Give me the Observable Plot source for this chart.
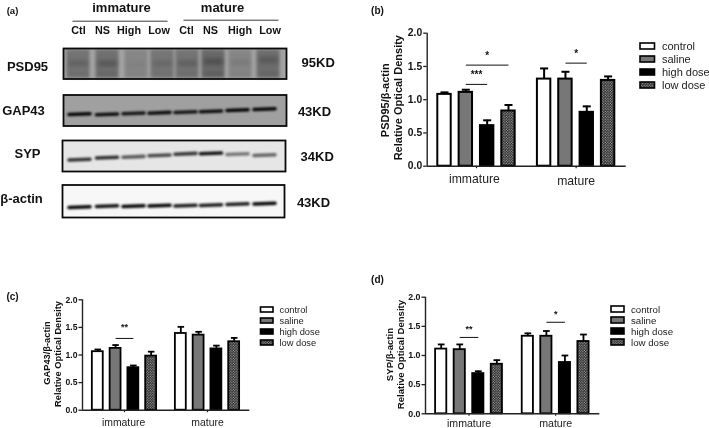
<!DOCTYPE html>
<html><head><meta charset="utf-8">
<script src="https://cdn.jsdelivr.net/npm/d3@7"></script>
<script src="https://cdn.jsdelivr.net/npm/@observablehq/plot@0.6"></script>
<style>
html,body{margin:0;padding:0;background:#fff}
#fig{position:relative;width:709px;height:428px;overflow:hidden;background:#fff;filter:blur(0.3px)}
#fig svg{position:absolute;left:0;top:0}
</style></head><body><div id="fig"></div>
<script>
const W = 709, H = 428, FONT = "Liberation Sans, Arial, sans-serif";
// ---- categories
const groups = ["immature", "mature"];
const series = ["control", "saline", "high dose", "low dose"];
const laneNames = ["Ctl", "NS", "High", "Low", "Ctl", "NS", "High", "Low"];
// ---- bar values [immature..., mature...]
const psdMean = [1.08, 1.11, 0.61, 0.83, 1.31, 1.31, 0.81, 1.29];
const psdTop  = [1.11, 1.15, 0.69, 0.92, 1.47, 1.42, 0.90, 1.35];
const gapMean = [1.06, 1.12, 0.77, 0.98, 1.39, 1.36, 1.11, 1.24];
const gapTop  = [1.10, 1.18, 0.81, 1.06, 1.51, 1.42, 1.17, 1.31];
const sypMean = [1.11, 1.10, 0.69, 0.85, 1.33, 1.33, 0.88, 1.24];
const sypTop  = [1.19, 1.19, 0.73, 0.92, 1.38, 1.42, 1.00, 1.36];
// ---- significance brackets: group, value of line, value of stars, stars, end lane
const psdSig = [[0, 1.23, 1.38, "***", 2], [0, 1.52, 1.66, "*", 3], [1, 1.55, 1.69, "*", 2]];
const gapSig = [[0, 1.30, 1.50, "**", 2]];
const sypSig = [[0, 1.31, 1.45, "**", 2], [1, 1.57, 1.71, "*", 2]];
// ---- blot rows
const blotRows = ["PSD95", "GAP43", "SYP", "β-actin"];
const blotMass = ["95KD", "43KD", "34KD", "43KD"];
const blotTop = [48.5, 95, 140.5, 185];
const blotBottom = [79, 126, 171.5, 217.5];
const blotLeft = [63.5, 63.5, 62.5, 62.5];
const blotRight = [286.5, 286.5, 285.5, 284.5];
const blotBg = ["#a4a4a4", "#a0a0a0", "#e6e6e6", "#f7f7f7"];
const blotBandY = [
  [62.7, 63, 64, 63, 62.7, 61, 62, 59.5],
  [114, 114.3, 113.3, 112.7, 112, 111.3, 110, 109],
  [159.5, 157.5, 156.7, 155.3, 153.7, 153.3, 154, 155],
  [207, 206, 206, 205.5, 205.5, 205, 204, 203.5]
];
const blotBandDark = [
  [0.28, 0.4, 0.06, 0.22, 0.32, 0.5, 0.14, 0.36],
  [1, 0.95, 0.9, 0.95, 0.9, 0.95, 1, 1],
  [0.8, 0.82, 0.62, 0.7, 0.78, 0.95, 0.5, 0.58],
  [1, 0.95, 1, 1, 0.9, 0.9, 0.9, 1]
];
const psdLaneDark = [0.42, 0.46, 0.26, 0.4, 0.42, 0.52, 0.26, 0.48];
const psdLaneX = [78, 107, 136, 162, 187, 213, 240, 268];
const laneBand = [79, 106.5, 133, 159, 185, 210.5, 237, 264];
const laneLabelX = [78, 102, 128.5, 158.5, 186, 210, 239.5, 269.5];

function base(opts, marks) {
  return Plot.plot({
    width: W, height: H, style: {background: "none", overflow: "visible", fontFamily: FONT, color: "#111"},
    ...opts, marks
  });
}

const defs = () => {
  const d = d3.create("svg:defs");
  const p = d.append("pattern").attr("id", "dots").attr("width", 2.6).attr("height", 2.6)
    .attr("patternUnits", "userSpaceOnUse");
  p.append("rect").attr("width", 2.6).attr("height", 2.6).attr("fill", "#1a1a1a");
  p.append("circle").attr("cx", 0.7).attr("cy", 0.7).attr("r", 0.62).attr("fill", "#c4c4c4");
  p.append("circle").attr("cx", 2).attr("cy", 2).attr("r", 0.62).attr("fill", "#c4c4c4");
  return d.node();
};

const swatchFill = {"control": "#fff", "saline": "#777", "high dose": "#000", "low dose": "url(#dots)"};

function barPanel(c) {
  const gap = 4.67;
  const laneOf = i => (i < 4 ? i : i - 4 + gap);
  const half = c.barWidth / c.step / 2;
  const rows = c.mean.map((m, i) => ({i, m, t: c.top[i], s: series[i % 4], l: laneOf(i)}));
  const centres = [1.5, 1.5 + gap];
  const sig = c.sig.map(([g, line, star, txt, end]) => ({
    x1: 1 + g * gap, x2: end + g * gap, line, star, txt, xm: (1 + end) / 2 + g * gap
  }));
  const tw = c.stroke;
  const swatches = series.map(s =>
    Plot.rectY(rows.filter(r => r.s === s), {
      x1: r => r.l - half, x2: r => r.l + half, y1: 0, y2: "m",
      fill: swatchFill[s], stroke: "#000", strokeWidth: tw
    }));
  const chart = base({
    marginLeft: c.left, marginRight: W - c.right, marginTop: c.yTop, marginBottom: H - c.yZero,
    x: {domain: [(c.left - c.first) / c.step, (c.right - c.first) / c.step], axis: null},
    y: {domain: [0, 2], axis: null}
  }, [
    defs,
    Plot.ruleX(rows, {x: "l", y1: "m", y2: "t", stroke: "#000", strokeWidth: tw}),
    Plot.link(rows, {x1: r => r.l - half * 0.6, x2: r => r.l + half * 0.6, y1: "t", y2: "t", stroke: "#000", strokeWidth: tw}),
    ...swatches,
    Plot.axisY({ticks: [0, 0.5, 1, 1.5, 2], tickFormat: d3.format(".1f"), tickSize: 3.5, tickPadding: 1.5,
      strokeWidth: 1.3, stroke: "#222", fontSize: c.tickFont, fontWeight: "bold", label: null, fill: "#111"}),
    Plot.ruleX([0], {x: () => (c.left - c.first) / c.step, y1: 0, y2: 2, stroke: "#222", strokeWidth: 1.4}),
    Plot.ruleY([0], {stroke: "#222", strokeWidth: 1.4}),
    Plot.axisX({ticks: centres, tickFormat: () => "", tickSize: 2.5, stroke: "#222", strokeWidth: 1.2, label: null}),
    ...groups.map((g, i) => Plot.text([g], {x: () => centres[i] + c.groupShift[i], frameAnchor: "bottom",
      dy: c.groupDy[i], fontSize: c.groupFont, fill: "#222", lineAnchor: "middle"})),
    Plot.link(sig, {x1: "x1", x2: "x2", y1: "line", y2: "line", stroke: "#111", strokeWidth: 1}),
    Plot.text(sig, {x: "xm", y: "star", text: "txt", fontWeight: "bold", fontSize: c.starFont, fill: "#111", lineAnchor: "middle"}),
    Plot.text([c.label1], {frameAnchor: "left", dx: c.title1, dy: c.titleDy1, rotate: -90, fontWeight: "bold",
      fontSize: c.titleFont, textAnchor: "middle", lineAnchor: "middle", fill: "#111"}),
    Plot.text(["Relative Optical Density"], {frameAnchor: "left", dx: c.title2, dy: c.titleDy2, rotate: -90,
      fontWeight: "bold", fontSize: c.titleFont, textAnchor: "middle", lineAnchor: "middle", fill: "#111"}),
    Plot.text([c.tag], {frameAnchor: "top-left", dx: c.tagX - c.left, dy: c.tagY - c.yTop, fontWeight: "bold",
      fontSize: 10, textAnchor: "middle", lineAnchor: "middle", fill: "#111"})
  ]);
  const legend = base({
    marginLeft: c.legLeft, marginRight: W - c.legRight,
    marginTop: c.legFirst - c.legStep / 2, marginBottom: H - (c.legFirst + c.legStep * 3.5),
    x: {domain: [0, 1], axis: null},
    y: {domain: series, axis: null, padding: c.legPadding}
  }, [
    ...series.map(s => Plot.barX([s], {x1: 0, x2: 1, y: d => d, fill: swatchFill[s], stroke: "#000", strokeWidth: 1.6})),
    Plot.text(series, {x: 1, y: d => d, dx: c.legText, textAnchor: "start", fontSize: c.legFont, fill: "#222"})
  ]);
  return [chart, legend];
}

const panels = [
  {tag: "(b)", tagX: 377, tagY: 10, mean: psdMean, top: psdTop, sig: psdSig, label1: "PSD95/β-actin",
   left: 426.7, right: 625.7, yTop: 32.7, yZero: 165.7, first: 444, step: 21.33, barWidth: 13.4,
   stroke: 2, tickFont: 10.3, groupFont: 12.2, starFont: 10, titleFont: 11,
   groupShift: [-0.1, 0], groupDy: [13, 14.5],
   title1: -41.7, title2: -29, titleDy1: 0.5, titleDy2: -2,
   legLeft: 640, legRight: 654.5, legFirst: 42, legStep: 15.3, legPadding: 0.55, legText: 7, legFont: 11},
  {tag: "(c)", tagX: 12, tagY: 296, mean: gapMean, top: gapTop, sig: gapSig, label1: "GAP43/β-actin",
   left: 82, right: 249.3, yTop: 299.3, yZero: 409.7, first: 97.3, step: 17.78, barWidth: 10.9,
   stroke: 1.8, tickFont: 8.6, groupFont: 10.4, starFont: 9, titleFont: 9.3,
   groupShift: [-0.05, 0], groupDy: [12, 12],
   title1: -35.3, title2: -24.3, titleDy1: -2, titleDy2: -1,
   legLeft: 260.5, legRight: 273, legFirst: 306.5, legStep: 12.8, legPadding: 0.52, legText: 6, legFont: 9.3},
  {tag: "(d)", tagX: 377, tagY: 279, mean: sypMean, top: sypTop, sig: sypSig, label1: "SYP/β-actin",
   left: 425, right: 599.3, yTop: 296.7, yZero: 413.3, first: 440.7, step: 18.55, barWidth: 11.2,
   stroke: 1.8, tickFont: 8.8, groupFont: 10.6, starFont: 9, titleFont: 9.6,
   groupShift: [0, 0], groupDy: [9.3, 9.3],
   title1: -36, title2: -25, titleDy1: -1, titleDy2: -1,
   legLeft: 611, legRight: 624, legFirst: 305, legStep: 13.3, legPadding: 0.5, legText: 6.5, legFont: 9.7}
];

// ---- Western blot panel
const laneRows = [];
blotRows.forEach((r, ri) => laneBand.forEach((x, li) => laneRows.push({
  ri, li, x, y: blotBandY[ri][li], dark: blotBandDark[ri][li]
})));
const psdLanes = psdLaneX.map((x, i) => ({x, dark: psdLaneDark[i], band: blotBandDark[0][i], y: blotBandY[0][i]}));
const crispBands = laneRows.filter(d => d.ri > 0);
const blot = base({
  margin: 0,
  x: {domain: [0, W], axis: null},
  y: {domain: [H, 0], axis: null}
}, [
  Plot.rect(blotRows, {x1: (d, i) => blotLeft[i], x2: (d, i) => blotRight[i], y1: (d, i) => blotTop[i], y2: (d, i) => blotBottom[i],
    fill: (d, i) => blotBg[i]}),
  // PSD95: stained lanes, a diffuse main band and a fainter lower band
  Plot.rect(psdLanes, {x1: d => d.x - 11.5, x2: d => d.x + 11.5, y1: blotTop[0] + 1, y2: blotBottom[0] - 1,
    fill: "#333", fillOpacity: "dark", imageFilter: "blur(1.8px)"}),
  Plot.link(psdLanes, {x1: d => d.x - 9.5, x2: d => d.x + 9.5, y1: "y", y2: "y",
    stroke: "#333", strokeOpacity: "band", strokeWidth: 6, imageFilter: "blur(2.2px)"}),
  Plot.link(psdLanes, {x1: d => d.x - 9.5, x2: d => d.x + 9.5, y1: 73, y2: 73,
    stroke: "#333", strokeOpacity: d => d.band * 0.35, strokeWidth: 4, imageFilter: "blur(1.8px)"}),
  // GAP43, SYP, β-actin: sharp bands
  Plot.link(crispBands, {x1: d => d.x - 10.5, x2: d => d.x + 10.5, y1: "y", y2: d => d.y - 0.8,
    stroke: "#050505", strokeOpacity: "dark", strokeWidth: 3.6, strokeLinecap: "round", imageFilter: "blur(0.8px)"}),
  Plot.rect(blotRows, {x1: (d, i) => blotLeft[i], x2: (d, i) => blotRight[i], y1: (d, i) => blotTop[i], y2: (d, i) => blotBottom[i],
    fill: "none", stroke: "#0a0a0a", strokeWidth: 1.8}),
  Plot.text(["(a)"], {x: 12, y: 10.5, fontWeight: "bold", fontSize: 9.5, fill: "#111"}),
  Plot.text(groups, {x: (d, i) => [121, 222][i], y: 7, fontWeight: "bold", fontSize: 13, fill: "#111"}),
  Plot.link(groups, {x1: (d, i) => [72, 183][i], x2: (d, i) => [167, 278][i], y1: (d, i) => [20.7, 19.7][i], y2: (d, i) => [20.7, 19.7][i], stroke: "#222", strokeWidth: 0.9}),
  Plot.text(laneNames, {x: (d, i) => laneLabelX[i], y: 30.3, fontWeight: "bold", fontSize: 10.8, fill: "#111"}),
  Plot.text(blotRows, {x: (d, i) => [27, 23, 27, 21][i], y: (d, i) => [66, 110.7, 153, 198][i], fontWeight: "bold", fontSize: 13, fill: "#111"}),
  Plot.text(blotMass, {x: (d, i) => [317.7, 314, 316.7, 313][i], y: (d, i) => [62, 111.7, 156, 202][i], fontWeight: "bold", fontSize: 13, fill: "#111"})
]);

const fig = document.getElementById("fig");
fig.append(blot);
panels.forEach(c => barPanel(c).forEach(el => fig.append(el)));
</script></body></html>
